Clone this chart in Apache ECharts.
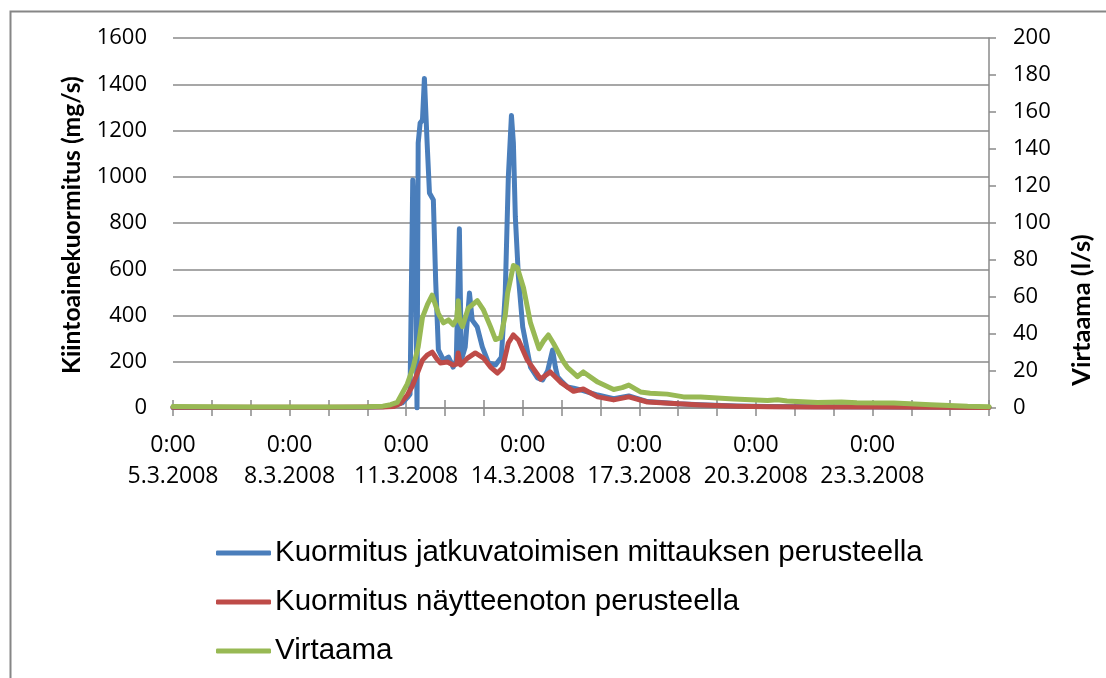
<!DOCTYPE html>
<html>
<head>
<meta charset="utf-8">
<script src="https://cdn.jsdelivr.net/npm/echarts@6/dist/echarts.min.js"></script>
<style>
html,body{margin:0;padding:0;background:#fff;}
#c{width:1106px;height:678px;}
</style>
</head>
<body>
<div id="c"></div>
<script>
// Time in days since 5.3.2008 0:00
const tickDates = ['5.3.2008','8.3.2008','11.3.2008','14.3.2008','17.3.2008','20.3.2008','23.3.2008'];
const seriesNames = ['Kuormitus jatkuvatoimisen mittauksen perusteella','Kuormitus näytteenoton perusteella','Virtaama'];

const blueT = [0,1,2,3,4,5, 5.4,5.7,5.9,6.03, 6.1,6.17,6.24,6.28, 6.31,6.36,6.42,6.47, 6.54,6.60,6.70,6.76, 6.83,6.96,7.09,7.21, 7.29,7.37,7.42,7.52, 7.63,7.70,7.83,7.96, 8.12,8.30,8.45,8.55, 8.63,8.71,8.76,8.81, 8.89,9.0,9.2,9.38, 9.51,9.64,9.77,9.84, 9.9,10.02,10.15,10.31, 10.49,10.93,11.34,11.73, 12.21,13.0,13.58,14.5, 15.31,16.5,18,19.5, 21];
const blueV = [2,2,2,2,2,3, 5,12,22,45, 60,986,700,0, 1146,1232,1245,1425, 1146,930,900,550, 251,207,220,177, 205,775,207,264, 497,380,350,264, 195,186,220,497, 999,1265,1146,826, 566,350,177,130, 121,160,251,177, 134,112,91,86, 78,56,40,52, 28,18,14,9, 6,5,4,3, 2];

const redT = [0,2,4,5, 5.4,5.67,5.85,6.03, 6.16,6.29,6.42,6.55, 6.67,6.78,6.88,7.06, 7.21,7.30,7.34,7.40, 7.58,7.78,7.99,8.17, 8.35,8.48,8.63,8.76, 8.89,9.12,9.38,9.46, 9.71,9.97,10.31,10.56, 10.93,11.34,11.73,12.21, 13.0,13.58,14.5,15.31, 16.5,18,19.5,21];
const redV = [3,3,3,4, 4,6,20,56, 95,151,207,230, 242,215,195,199, 186,190,238,186, 216,238,216,177, 151,173,281,316, 294,207,145,125, 156,112,72,82, 48,35,48,26, 18,13,8,5, 4,4,3,2];

const greenT = [0,1,2,3,4,5, 5.4,5.6,5.77,5.9, 6.03,6.18,6.31,6.42, 6.55,6.67,6.83,6.96, 7.09,7.21,7.30,7.34, 7.38,7.45,7.60,7.83, 7.99,8.17,8.30,8.43, 8.55,8.61,8.76,8.86, 9.02,9.2,9.42,9.53, 9.66,9.79,9.92,10.05, 10.15,10.41,10.56,10.93, 11.34,11.56,11.73,12.03, 12.28,12.72,13.14,13.58, 14.43,15.3,15.56,15.8, 16.59,17.2,17.6,18.55, 19.5,20.45,21];
const greenV = [0.8,0.7,0.6,0.6,0.6,0.7, 1,1.8,3,8, 13,22,33,49, 56,61,51,46, 47.6,45,48,58, 47,44,54,58, 53,44,37,38, 50,62,77,76, 65,46,32,36, 39.5,35,30,25, 22,17,19.5,14, 10,11,12.4,8.7, 8,7.5,6,6, 4.9,4,4.5,3.8, 3,3.2,2.8,2.7, 1.8,0.9,0.7];

const leftTitle = 'Kiintoainekuormitus (mg/s)';
const rightTitle = 'Virtaama (l/s)';

const pair = (t, v) => t.map((x, i) => [x, v[i]]);
const gray = '#8a8a8a';
const tickFont = 'Open Sans';

const chart = echarts.init(document.getElementById('c'));
chart.setOption({
  animation: false,
  backgroundColor: '#fff',
  grid: { left: 173, right: 117, top: 38, bottom: 270, containLabel: false },
  xAxis: [{
    type: 'value', min: 0, max: 21, interval: 1,
    axisLine: { show: true, onZero: false, lineStyle: { color: gray, width: 1.5 } },
    axisTick: { show: true, length: 8, lineStyle: { color: gray, width: 1.5 } },
    splitLine: { show: false },
    axisLabel: {
      margin: 22, color: '#000', fontFamily: tickFont, fontSize: 23, lineHeight: 31,
      formatter: v => (v % 3 === 0 && v / 3 < tickDates.length) ? '0:00\n' + tickDates[v / 3] : ''
    }
  }, {
    type: 'value', min: 0, max: 21, interval: 1, position: 'bottom',
    axisLine: { show: false, onZero: false },
    axisTick: { show: true, inside: true, length: 8, lineStyle: { color: gray, width: 1.5 } },
    axisLabel: { show: false }, splitLine: { show: false }
  }],
  yAxis: [{
    type: 'value', min: 0, max: 1600, interval: 200, position: 'left',
    axisLine: { show: false, onZero: false }, axisTick: { show: false },
    splitLine: { show: true, lineStyle: { color: gray, width: 1.5 } },
    axisLabel: { margin: 26, color: '#000', fontFamily: tickFont, fontSize: 22, formatter: v => String(v) }
  }, {
    type: 'value', min: 0, max: 200, interval: 20, position: 'right',
    axisLine: { show: true, onZero: false, lineStyle: { color: gray, width: 1.5 } },
    axisTick: { show: true, length: 7, lineStyle: { color: gray, width: 1.5 } },
    splitLine: { show: false },
    axisLabel: { margin: 24, color: '#000', fontFamily: tickFont, fontSize: 22, formatter: v => String(v) }
  }],
  legend: {
    orient: 'vertical', left: 216, top: 538, padding: 0,
    icon: 'roundRect', itemWidth: 55, itemHeight: 5, itemGap: 19,
    textStyle: { fontFamily: 'Liberation Sans', fontSize: 29.5, color: '#000', lineHeight: 30, padding: [0, 0, 0, -1] },
    data: seriesNames
  },
  graphic: [
    { type: 'rect', left: 8, top: 9, shape: { width: 1300, height: 1000 }, style: { fill: 'none', stroke: '#868686', lineWidth: 2 }, silent: true },
    { type: 'text', x: 72, y: 225, rotation: Math.PI / 2,
      style: { text: leftTitle, fontFamily: 'Lato', fontWeight: 'bold', fontSize: 24.7, fill: '#000', align: 'center', verticalAlign: 'middle' } },
    { type: 'text', x: 1082, y: 310, rotation: Math.PI / 2,
      style: { text: rightTitle, fontFamily: 'Lato', fontWeight: 'bold', fontSize: 25.5, fill: '#000', align: 'center', verticalAlign: 'middle' } }
  ],
  series: [
    { name: seriesNames[0], type: 'line', xAxisIndex: 0, yAxisIndex: 0, data: pair(blueT, blueV), showSymbol: false, symbol: 'none',
      color: '#4a7ebb', lineStyle: { color: '#4a7ebb', width: 5, join: 'round', cap: 'round' } },
    { name: seriesNames[1], type: 'line', xAxisIndex: 0, yAxisIndex: 0, data: pair(redT, redV), showSymbol: false, symbol: 'none',
      color: '#be4b48', lineStyle: { color: '#be4b48', width: 5, join: 'round', cap: 'round' } },
    { name: seriesNames[2], type: 'line', xAxisIndex: 0, yAxisIndex: 1, data: pair(greenT, greenV), showSymbol: false, symbol: 'none',
      color: '#98b954', lineStyle: { color: '#98b954', width: 5, join: 'round', cap: 'round' } }
  ]
});
</script>
</body>
</html>
